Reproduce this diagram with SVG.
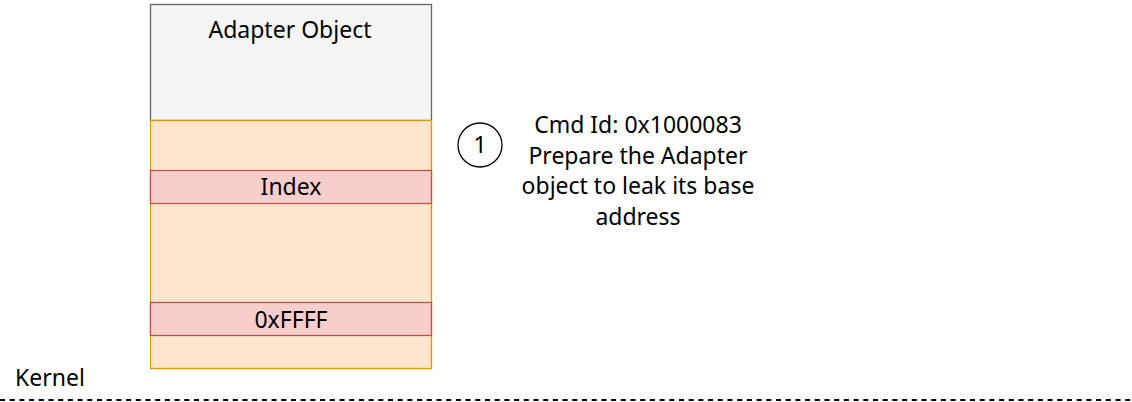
<svg xmlns="http://www.w3.org/2000/svg" width="1132" height="402" viewBox="0 0 1132 402">
<style>
text{font-family:"Noto Sans","Liberation Sans",sans-serif;font-size:23px;fill:#000;}
.c{text-anchor:middle;}
.band{fill:#f8cecc;stroke:#b85450;stroke-width:1.3;}
</style>
<rect width="1132" height="402" fill="#fff"/>
<g id="adapter-object">
<rect x="150.5" y="4.5" width="281" height="116" fill="#f5f5f5" stroke="#666666" stroke-width="1.3"/>
<text class="c" x="290" y="38">Adapter Object</text>
</g>
<g id="adapter-body">
<rect x="150.5" y="120.5" width="281" height="248" fill="#ffe6cc" stroke="#d79b00" stroke-width="1.3"/>
</g>
<g id="index">
<rect class="band" x="150.5" y="170.5" width="281" height="33"/>
<text class="c" x="291" y="195">Index</text>
</g>
<g id="ffff">
<rect class="band" x="150.5" y="302.5" width="281" height="33"/>
<text class="c" x="291" y="328">0xFFFF</text>
</g>
<g id="step1">
<circle cx="480" cy="145" r="22" fill="#fff" stroke="#000" stroke-width="1.3"/>
<text class="c" x="480" y="153">1</text>
</g>
<g id="step1-label">
<text class="c" x="638" y="133">Cmd Id: 0x1000083</text>
<text class="c" x="638" y="164">Prepare the Adapter</text>
<text class="c" x="638" y="194">object to leak its base</text>
<text class="c" x="638" y="225">address</text>
</g>
<g id="kernel">
<text x="15" y="386">Kernel</text>
</g>
<g id="connectors">
<line x1="0" y1="400" x2="1132" y2="400" stroke="#000" stroke-width="2" stroke-dasharray="5 4.7"/>
</g>
</svg>
